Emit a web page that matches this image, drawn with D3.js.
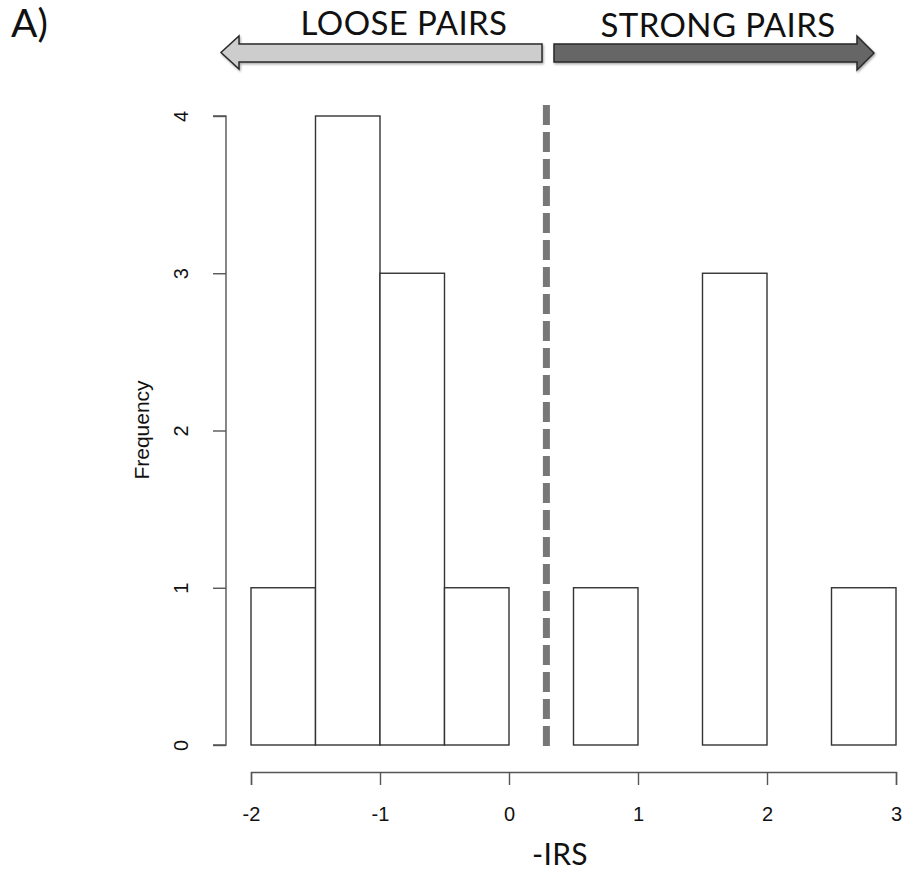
<!DOCTYPE html>
<html>
<head>
<meta charset="utf-8">
<script src="https://d3js.org/d3.v7.min.js"></script>
<style>
html,body{margin:0;padding:0;background:#fff;}
svg{display:block;}
</style>
</head>
<body>
<svg id="chart" width="904" height="870"></svg>
<script>
// Data
const binStarts = [-2, -1.5, -1, -0.5, 0, 0.5, 1, 1.5, 2, 2.5];
const binWidth = 0.5;
const counts = [1, 4, 3, 1, 0, 1, 0, 3, 0, 1];
const xTicks = [-2, -1, 0, 1, 2, 3];
const yTicks = [0, 1, 2, 3, 4];
const threshold = 0.29;
const arrowLabels = ["LOOSE PAIRS", "STRONG PAIRS"];

const svg = d3.select("#chart");
const x = d3.scaleLinear().domain([-2, 3]).range([251, 896]);
const y = d3.scaleLinear().domain([0, 4]).range([745, 116]);

const axisColor = "#555";
const tickFont = "'Liberation Sans', Arial, sans-serif";
const calib = "Lato, 'Open Sans', sans-serif";

// Bars
svg.append("g").selectAll("rect")
  .data(binStarts.map((s, i) => ({s, c: counts[i]})).filter(d => d.c > 0))
  .join("rect")
  .attr("x", d => x(d.s))
  .attr("y", d => y(d.c))
  .attr("width", d => x(d.s + binWidth) - x(d.s))
  .attr("height", d => y(0) - y(d.c))
  .attr("fill", "#fff")
  .attr("stroke", "#333")
  .attr("stroke-width", 1.4);

// Y axis
const yAxis = d3.axisLeft(y).tickValues(yTicks).tickSize(13).tickPadding(16).tickFormat(d3.format("d"));
const gy = svg.append("g").attr("transform", "translate(226,0)").call(yAxis);
gy.select(".domain").attr("stroke", axisColor).attr("stroke-width", 1.4).attr("d", `M-13,${y(4)}H0V${y(0)}H-13`);
gy.selectAll(".tick line").attr("stroke", axisColor).attr("stroke-width", 1.4);
gy.selectAll(".tick text")
  .attr("font-family", tickFont).attr("font-size", 20).attr("fill", "#111")
  .attr("x", null).attr("dy", null)
  .attr("text-anchor", "middle")
  .attr("transform", "translate(-38,0) rotate(-90)")
  .attr("y", 0);

// X axis
const xAxis = d3.axisBottom(x).tickValues(xTicks).tickSize(13).tickPadding(22).tickFormat(d3.format("d"));
const gx = svg.append("g").attr("transform", "translate(0,772)").call(xAxis);
gx.select(".domain").attr("stroke", axisColor).attr("stroke-width", 1.4);
gx.selectAll(".tick line").attr("stroke", axisColor).attr("stroke-width", 1.4);
gx.selectAll(".tick text").attr("font-family", tickFont).attr("font-size", 20).attr("fill", "#111")
  .text(d => d < 0 ? "-" + Math.abs(d) : d);

// Dashed threshold line
svg.append("line")
  .attr("x1", x(threshold)).attr("x2", x(threshold))
  .attr("y1", 105).attr("y2", y(0) + 1)
  .attr("stroke", "#777").attr("stroke-width", 7)
  .attr("stroke-dasharray", "20,7");

// Axis titles
svg.append("text")
  .attr("transform", "translate(149,430) rotate(-90)")
  .attr("text-anchor", "middle")
  .attr("font-family", tickFont).attr("font-size", 21).attr("fill", "#111")
  .text("Frequency");

svg.append("text")
  .attr("x", 560).attr("y", 865)
  .attr("text-anchor", "middle")
  .attr("font-family", calib).attr("font-size", 30).attr("letter-spacing", 0.3).attr("fill", "#111")
  .text("-IRS");

svg.append("text")
  .attr("x", 11).attr("y", 37)
  .attr("font-family", calib).attr("font-size", 39).attr("fill", "#111")
  .text("A)");

// Arrows
const defs = svg.append("defs");
const f = defs.append("filter").attr("id", "sh").attr("x", "-10%").attr("y", "-50%").attr("width", "120%").attr("height", "200%");
f.append("feDropShadow").attr("dx", 1).attr("dy", 1.5).attr("stdDeviation", 1.2).attr("flood-color", "#000").attr("flood-opacity", 0.35);

const leftArrow = `M542,44 L239,44 L239,36 L221,52.5 L239,69 L239,62 L542,62 Z`;
const rightArrow = `M554,44 L857,44 L857,36 L874,53 L857,70 L857,62 L554,62 Z`;
svg.append("path").attr("d", leftArrow).attr("fill", "#cdcdcd").attr("stroke", "#2a2a2a").attr("stroke-width", 1.5).attr("filter", "url(#sh)");
svg.append("path").attr("d", rightArrow).attr("fill", "#666").attr("stroke", "#2a2a2a").attr("stroke-width", 1.5).attr("filter", "url(#sh)");

svg.append("text").attr("x", 404).attr("y", 35).attr("text-anchor", "middle")
  .attr("font-family", calib).attr("font-size", 33).attr("letter-spacing", 0.4).attr("fill", "#111").text(arrowLabels[0]);
svg.append("text").attr("x", 718).attr("y", 37).attr("text-anchor", "middle")
  .attr("font-family", calib).attr("font-size", 33).attr("letter-spacing", 0.4).attr("fill", "#111").text(arrowLabels[1]);
</script>
</body>
</html>
